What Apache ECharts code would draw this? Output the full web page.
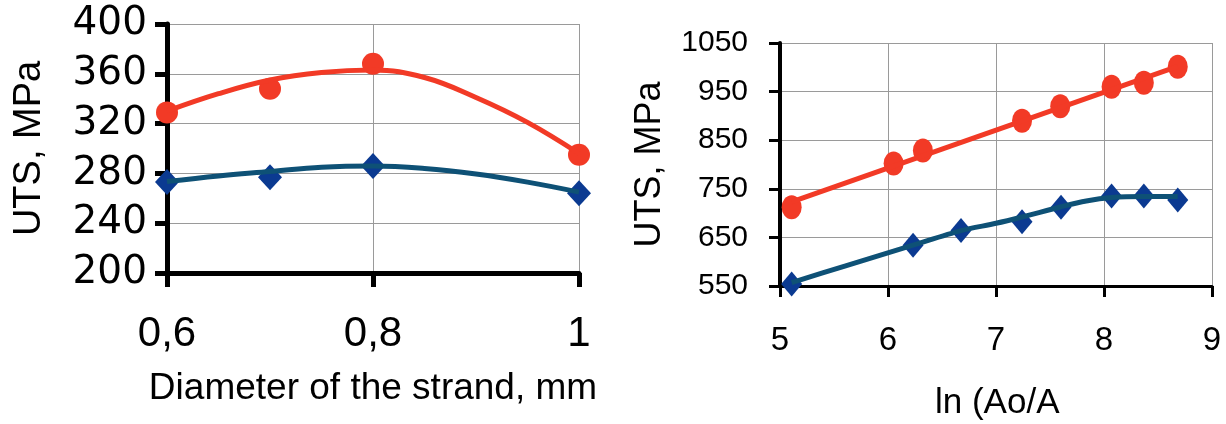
<!DOCTYPE html>
<html><head><meta charset="utf-8">
<script src="https://cdn.jsdelivr.net/npm/echarts@6/dist/echarts.min.js"></script>
<style>html,body{margin:0;padding:0;background:#fff}#c{width:1226px;height:424px}</style>
</head><body><div id="c"></div>
<script>
// Left chart: UTS vs strand diameter
const diamX = [0.6, 0.7, 0.8, 1.0];
const diamRed = [329, 348, 368, 295];
const diamBlue = [273, 277, 286, 264];
const diamFitX = [0.6, 0.65, 0.7, 0.75, 0.8, 0.85, 0.9, 0.95, 1.0];
const diamFitRed = [330, 344, 355, 361, 363, 357, 341, 321, 296];
const diamFitBlue = [273.5, 278, 281.5, 285, 286, 284, 279.5, 273, 265];
// Right chart: UTS vs ln(Ao/A)
const lnRedX = [5.108, 6.052, 6.323, 7.241, 7.595, 8.07, 8.369, 8.683];
const lnRed = [712, 802, 829, 890, 920, 960, 968, 1001];
const lnBlueX = [5.108, 6.232, 6.676, 7.241, 7.602, 8.07, 8.369, 8.683];
const lnBlue = [554, 634, 664, 682, 712, 735, 735, 727];
const lnFitRedX = [5.108, 8.683];
const lnFitRed = [723, 1002];
const lnFitBlueX = [5.108, 5.6, 6.232, 6.676, 7.0, 7.241, 7.602, 7.836, 8.07, 8.369, 8.683];
const lnFitBlue = [557, 591, 634, 664, 679, 692, 713, 725, 732, 734, 734];
const yNameText = 'UTS, MPa';
const xNameLeft = 'Diameter of the strand, mm';
const xNameRight = 'ln (Ao/A';

const RED = '#F23A26', BLUE_M = '#0B3A91', BLUE_L = '#0E5176';
const zip = (xs, ys) => xs.map((x, i) => [x, ys[i]]);

const chart = echarts.init(document.getElementById('c'));
const grayGrid = {show: true, lineStyle: {color: '#9a9a9a', width: 1}};
chart.setOption({
  animation: false,
  backgroundColor: '#fff',
  grid: [
    {left: 167, right: 647, top: 24, bottom: 151},
    {left: 780, right: 14, top: 43, bottom: 138}
  ],
  xAxis: [
    {gridIndex: 0, type: 'value', min: 0.6, max: 1.0, interval: 0.2,
     axisLine: {lineStyle: {color: '#000', width: 5}},
     axisTick: {length: 14, lineStyle: {color: '#000', width: 5}},
     splitLine: grayGrid,
     axisLabel: {margin: 40, color: '#000', fontFamily: 'Liberation Sans', fontSize: 42,
       formatter: v => String(Math.round(v * 10) / 10).replace('.', ',')},
     name: xNameLeft, nameLocation: 'middle', nameGap: 97,
     nameTextStyle: {color: '#000', fontFamily: 'Liberation Sans', fontSize: 37}},
    {gridIndex: 1, type: 'value', min: 5, max: 9, interval: 1,
     axisLine: {lineStyle: {color: '#000', width: 3}},
     axisTick: {length: 11, lineStyle: {color: '#000', width: 3}},
     splitLine: grayGrid,
     axisLabel: {margin: 38, color: '#000', fontFamily: 'Liberation Sans', fontSize: 33,
       formatter: v => String(v)}}
  ],
  yAxis: [
    {gridIndex: 0, type: 'value', min: 200, max: 400, interval: 40,
     axisLine: {show: true, lineStyle: {color: '#000', width: 5}},
     axisTick: {show: true, length: 12, lineStyle: {color: '#000', width: 5}},
     splitLine: grayGrid,
     axisLabel: {margin: 20, color: '#000', fontFamily: 'DejaVu Sans', fontSize: 39},
     name: yNameText, nameLocation: 'middle', nameGap: 118,
     nameTextStyle: {color: '#000', fontFamily: 'Liberation Sans', fontSize: 38}},
    {gridIndex: 1, type: 'value', min: 550, max: 1050, interval: 100,
     axisLine: {show: true, lineStyle: {color: '#000', width: 4}},
     axisTick: {show: true, length: 11, lineStyle: {color: '#000', width: 3}},
     splitLine: grayGrid,
     axisLabel: {margin: 32, color: '#000', fontFamily: 'Liberation Sans', fontSize: 30,
       formatter: v => String(v)},
     name: yNameText, nameLocation: 'middle', nameGap: 112,
     nameTextStyle: {color: '#000', fontFamily: 'Liberation Sans', fontSize: 36}}
  ],
  graphic: [
    {type: 'text', left: 935, top: 386, style: {text: xNameRight, fill: '#000', font: '35px "Liberation Sans"'}}
  ],
  series: [
    {type: 'line', xAxisIndex: 0, yAxisIndex: 0, data: zip(diamFitX, diamFitRed), smooth: 0.4, showSymbol: false, lineStyle: {color: RED, width: 5}, clip: false},
    {type: 'line', xAxisIndex: 0, yAxisIndex: 0, data: zip(diamFitX, diamFitBlue), smooth: 0.4, showSymbol: false, lineStyle: {color: BLUE_L, width: 5}, clip: false},
    {type: 'scatter', xAxisIndex: 0, yAxisIndex: 0, data: zip(diamX, diamRed), symbol: 'circle', symbolSize: 22, itemStyle: {color: RED, opacity: 1}, clip: false},
    {type: 'scatter', xAxisIndex: 0, yAxisIndex: 0, data: zip(diamX, diamBlue), symbol: 'diamond', symbolSize: [24, 26], itemStyle: {color: BLUE_M, opacity: 1}, clip: false},
    {type: 'line', xAxisIndex: 1, yAxisIndex: 1, data: zip(lnFitRedX, lnFitRed), showSymbol: false, lineStyle: {color: RED, width: 5}, clip: false},
    {type: 'line', xAxisIndex: 1, yAxisIndex: 1, data: zip(lnFitBlueX, lnFitBlue), smooth: 0.3, showSymbol: false, lineStyle: {color: BLUE_L, width: 5}, clip: false},
    {type: 'scatter', xAxisIndex: 1, yAxisIndex: 1, data: zip(lnRedX, lnRed), symbol: 'circle', symbolSize: [20, 24], itemStyle: {color: RED, opacity: 1}, clip: false},
    {type: 'scatter', xAxisIndex: 1, yAxisIndex: 1, data: zip(lnBlueX, lnBlue), symbol: 'diamond', symbolSize: [21, 25], itemStyle: {color: BLUE_M, opacity: 1}, clip: false}
  ]
});
</script></body></html>
